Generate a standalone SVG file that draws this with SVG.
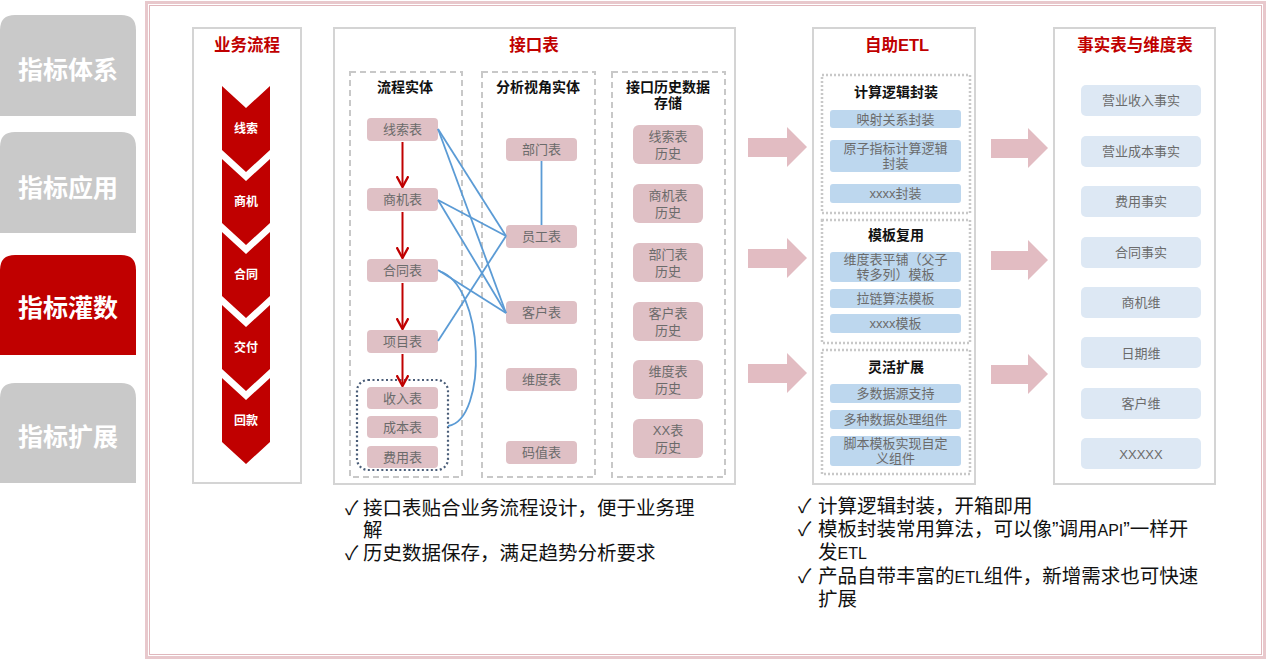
<svg xmlns="http://www.w3.org/2000/svg" width="1268" height="661" viewBox="0 0 1268 661">
<defs>
<style>
text{font-family:"Liberation Sans","Noto Sans CJK SC",sans-serif;}
.tab{font-size:25px;font-weight:bold;fill:#fff;text-anchor:middle;}
.frame{fill:#fff;stroke:#d4d4d4;stroke-width:2;}
.title{font-size:16.5px;font-weight:bold;fill:#c00000;text-anchor:middle;}
.sub{fill:none;stroke:#c8c8c8;stroke-width:2;stroke-dasharray:6 4;}
.subdot{fill:none;stroke:#c8c8c8;stroke-width:2.5;stroke-dasharray:2 2;}
.st{font-size:14px;font-weight:bold;fill:#111;text-anchor:middle;}
.pk{fill:#dfc0c5;}
.bl{fill:#bdd7ee;}
.lb{fill:#dde8f4;}
.bt{font-size:13px;fill:#6b6b6b;text-anchor:middle;}
.cv{fill:#c00000;}
.cvt{font-size:12px;font-weight:bold;fill:#fff;text-anchor:middle;}
.blue{fill:none;stroke:#5b9bd5;stroke-width:1.8;}
.red{fill:none;stroke:#c00000;stroke-width:2;marker-end:url(#ra);}
.pa{fill:#e2bcc2;}
.note{font-size:19.5px;fill:#111;}
.sm{font-size:16px;}
</style>
<marker id="ra" viewBox="0 0 10 10" refX="9" refY="5" markerWidth="12" markerHeight="13" orient="auto" markerUnits="userSpaceOnUse" preserveAspectRatio="none">
<path d="M0,0.5 L9,5 L0,9.5" fill="none" stroke="#c00000" stroke-width="1.8"/>
</marker>
</defs>

<rect x="0" y="0" width="1268" height="661" fill="#fff"/>

<!-- outer frame -->
<rect x="146.5" y="2.5" width="1118" height="655" fill="none" stroke="#e8c8cc" stroke-width="3"/>
<rect x="149.5" y="5.5" width="1112" height="649" fill="none" stroke="#e0b8bd" stroke-width="1"/>

<!-- sidebar tabs -->
<g id="tab1">
<path d="M0,30 Q0,15 15,15 L121,15 Q136,15 136,30 L136,116 L0,116 Z" fill="#c9c9c9"/>
<text class="tab" x="68" y="79">指标体系</text>
</g>
<g id="tab2">
<path d="M0,147 Q0,132 15,132 L121,132 Q136,132 136,147 L136,233 L0,233 Z" fill="#c9c9c9"/>
<text class="tab" x="68" y="197">指标应用</text>
</g>
<g id="tab3">
<path d="M0,270 Q0,255 15,255 L121,255 Q136,255 136,270 L136,355 L0,355 Z" fill="#c00000"/>
<text class="tab" x="68" y="317">指标灌数</text>
</g>
<g id="tab4">
<path d="M0,398 Q0,383 15,383 L121,383 Q136,383 136,398 L136,483 L0,483 Z" fill="#c9c9c9"/>
<text class="tab" x="68" y="446">指标扩展</text>
</g>

<!-- business flow -->
<g id="flow">
<rect class="frame" x="193" y="28" width="108" height="455"/>
<text class="title" x="247" y="51">业务流程</text>
<polygon class="cv" points="222,86 246,108 270,86 270,150 246,172 222,150"/>
<text class="cvt" x="246" y="133">线索</text>
<polygon class="cv" points="222,159 246,181 270,159 270,223 246,245 222,223"/>
<text class="cvt" x="246" y="206">商机</text>
<polygon class="cv" points="222,232 246,254 270,232 270,296 246,318 222,296"/>
<text class="cvt" x="246" y="279">合同</text>
<polygon class="cv" points="222,305 246,327 270,305 270,369 246,391 222,369"/>
<text class="cvt" x="246" y="352">交付</text>
<polygon class="cv" points="222,378 246,400 270,378 270,442 246,464 222,442"/>
<text class="cvt" x="246" y="425">回款</text>
</g>

<!-- interface table -->
<g id="iface">
<rect class="frame" x="334" y="28" width="401" height="456"/>
<text class="title" x="534" y="51">接口表</text>
</g>

<g id="proc">
<rect class="sub" x="350" y="72" width="112" height="405"/>
<text class="st" x="405" y="92">流程实体</text>
</g>
<g id="p1"><rect class="pk" x="367" y="118" width="71" height="23" rx="4"/><text class="bt" x="402.5" y="134">线索表</text></g>
<g id="p2"><rect class="pk" x="367" y="188" width="71" height="23" rx="4"/><text class="bt" x="402.5" y="204">商机表</text></g>
<g id="p3"><rect class="pk" x="367" y="259" width="71" height="23" rx="4"/><text class="bt" x="402.5" y="275">合同表</text></g>
<g id="p4"><rect class="pk" x="367" y="330" width="71" height="23" rx="4"/><text class="bt" x="402.5" y="346">项目表</text></g>
<g id="pgroup"><rect x="357" y="380" width="91" height="90" rx="11" fill="none" stroke="#4a5d78" stroke-width="2.2" stroke-dasharray="2 2.5"/></g>
<g id="p5"><rect class="pk" x="367" y="387" width="71" height="22" rx="4"/><text class="bt" x="402.5" y="403">收入表</text></g>
<g id="p6"><rect class="pk" x="367" y="416" width="71" height="22" rx="4"/><text class="bt" x="402.5" y="432">成本表</text></g>
<g id="p7"><rect class="pk" x="367" y="446" width="71" height="22" rx="4"/><text class="bt" x="402.5" y="462">费用表</text></g>

<g id="anal">
<rect class="sub" x="482" y="72" width="113" height="405"/>
<text class="st" x="538" y="92">分析视角实体</text>
</g>
<g id="a1"><rect class="pk" x="506" y="138" width="71" height="23" rx="4"/><text class="bt" x="541.5" y="154">部门表</text></g>
<g id="a2"><rect class="pk" x="506" y="225" width="71" height="23" rx="4"/><text class="bt" x="541.5" y="241">员工表</text></g>
<g id="a3"><rect class="pk" x="506" y="301" width="71" height="23" rx="4"/><text class="bt" x="541.5" y="317">客户表</text></g>
<g id="a4"><rect class="pk" x="506" y="368" width="71" height="23" rx="4"/><text class="bt" x="541.5" y="384">维度表</text></g>
<g id="a5"><rect class="pk" x="506" y="441" width="71" height="23" rx="4"/><text class="bt" x="541.5" y="457">码值表</text></g>

<g id="hist">
<rect class="sub" x="612" y="72" width="113" height="405"/>
<text class="st" x="668" y="92">接口历史数据</text>
<text class="st" x="668" y="108">存储</text>
</g>
<g id="h1"><rect class="pk" x="633" y="125" width="70" height="39" rx="6"/><text class="bt" x="668" y="141">线索表</text><text class="bt" x="668" y="158">历史</text></g>
<g id="h2"><rect class="pk" x="633" y="184" width="70" height="39" rx="6"/><text class="bt" x="668" y="200">商机表</text><text class="bt" x="668" y="217">历史</text></g>
<g id="h3"><rect class="pk" x="633" y="243" width="70" height="39" rx="6"/><text class="bt" x="668" y="259">部门表</text><text class="bt" x="668" y="276">历史</text></g>
<g id="h4"><rect class="pk" x="633" y="302" width="70" height="39" rx="6"/><text class="bt" x="668" y="318">客户表</text><text class="bt" x="668" y="335">历史</text></g>
<g id="h5"><rect class="pk" x="633" y="360" width="70" height="39" rx="6"/><text class="bt" x="668" y="376">维度表</text><text class="bt" x="668" y="393">历史</text></g>
<g id="h6"><rect class="pk" x="633" y="419" width="70" height="39" rx="6"/><text class="bt" x="668" y="435">XX表</text><text class="bt" x="668" y="452">历史</text></g>

<!-- ETL -->
<g id="etl">
<rect class="frame" x="813" y="28" width="162" height="456"/>
<text class="title" x="897" y="51">自助ETL</text>
</g>
<g id="e1">
<rect class="subdot" x="822" y="75" width="148" height="138"/>
<text class="st" x="896" y="97">计算逻辑封装</text>
<rect class="bl" x="830" y="110" width="131" height="18" rx="3"/><text class="bt" x="895.5" y="124">映射关系封装</text>
<rect class="bl" x="830" y="140" width="131" height="32" rx="3"/><text class="bt" x="895.5" y="153">原子指标计算逻辑</text><text class="bt" x="895.5" y="168">封装</text>
<rect class="bl" x="830" y="184" width="131" height="19" rx="3"/><text class="bt" x="895.5" y="198">xxxx封装</text>
</g>
<g id="e2">
<rect class="subdot" x="822" y="220" width="148" height="123"/>
<text class="st" x="896" y="240">模板复用</text>
<rect class="bl" x="830" y="252" width="131" height="30" rx="3"/><text class="bt" x="895.5" y="264">维度表平铺（父子</text><text class="bt" x="895.5" y="279">转多列）模板</text>
<rect class="bl" x="830" y="289" width="131" height="19" rx="3"/><text class="bt" x="895.5" y="303">拉链算法模板</text>
<rect class="bl" x="830" y="314" width="131" height="19" rx="3"/><text class="bt" x="895.5" y="328">xxxx模板</text>
</g>
<g id="e3">
<rect class="subdot" x="822" y="350" width="148" height="124"/>
<text class="st" x="896" y="372">灵活扩展</text>
<rect class="bl" x="830" y="384" width="131" height="19" rx="3"/><text class="bt" x="895.5" y="398">多数据源支持</text>
<rect class="bl" x="830" y="410" width="131" height="19" rx="3"/><text class="bt" x="895.5" y="424">多种数据处理组件</text>
<rect class="bl" x="830" y="436" width="131" height="30" rx="3"/><text class="bt" x="895.5" y="448">脚本模板实现自定</text><text class="bt" x="895.5" y="463">义组件</text>
</g>

<!-- facts -->
<g id="fact">
<rect class="frame" x="1054" y="28" width="161" height="456"/>
<text class="title" x="1135" y="51">事实表与维度表</text>
</g>
<g id="f1"><rect class="lb" x="1081" y="85" width="120" height="31" rx="5"/><text class="bt" x="1141" y="105">营业收入事实</text></g>
<g id="f2"><rect class="lb" x="1081" y="136" width="120" height="31" rx="5"/><text class="bt" x="1141" y="156">营业成本事实</text></g>
<g id="f3"><rect class="lb" x="1081" y="186" width="120" height="31" rx="5"/><text class="bt" x="1141" y="206">费用事实</text></g>
<g id="f4"><rect class="lb" x="1081" y="237" width="120" height="31" rx="5"/><text class="bt" x="1141" y="257">合同事实</text></g>
<g id="f5"><rect class="lb" x="1081" y="287" width="120" height="31" rx="5"/><text class="bt" x="1141" y="307">商机维</text></g>
<g id="f6"><rect class="lb" x="1081" y="337" width="120" height="31" rx="5"/><text class="bt" x="1141" y="358">日期维</text></g>
<g id="f7"><rect class="lb" x="1081" y="388" width="120" height="31" rx="5"/><text class="bt" x="1141" y="408">客户维</text></g>
<g id="f8"><rect class="lb" x="1081" y="438" width="120" height="31" rx="5"/><text class="bt" x="1141" y="459">XXXXX</text></g>

<!-- connectors -->
<g id="connectors">
<line class="red" x1="402.5" y1="142" x2="402.5" y2="187"/>
<line class="red" x1="402.5" y1="212" x2="402.5" y2="258"/>
<line class="red" x1="402.5" y1="283" x2="402.5" y2="329"/>
<line class="red" x1="402.5" y1="354" x2="402.5" y2="386"/>
<line class="blue" x1="438" y1="129" x2="506" y2="236"/>
<line class="blue" x1="438" y1="129" x2="506" y2="313"/>
<line class="blue" x1="438" y1="200" x2="506" y2="236"/>
<line class="blue" x1="438" y1="200" x2="506" y2="313"/>
<line class="blue" x1="438" y1="270" x2="506" y2="313"/>
<line class="blue" x1="438" y1="341" x2="506" y2="236"/>
<line class="blue" x1="541.5" y1="161" x2="541.5" y2="225"/>
<path class="blue" d="M439,271 C485,285 488,420 448,426"/>
<polygon class="pa" points="748,138 787,138 787,127 807,147 787,167 787,157 748,157"/>
<polygon class="pa" points="748,249 787,249 787,238 807,258 787,278 787,268 748,268"/>
<polygon class="pa" points="748,364 787,364 787,353 807,373 787,393 787,383 748,383"/>
<polygon class="pa" points="991,139 1028,139 1028,128 1048,148 1028,168 1028,158 991,158"/>
<polygon class="pa" points="991,251 1028,251 1028,240 1048,260 1028,280 1028,270 991,270"/>
<polygon class="pa" points="991,365 1028,365 1028,354 1048,374 1028,394 1028,384 991,384"/>
</g>

<!-- notes -->
<g id="notes-left">
<text class="note" x="345" y="515">✓</text><text class="note" x="363" y="515">接口表贴合业务流程设计，便于业务理</text>
<text class="note" x="363" y="537">解</text>
<text class="note" x="345" y="560">✓</text><text class="note" x="363" y="560">历史数据保存，满足趋势分析要求</text>
</g>
<g id="notes-right">
<text class="note" x="798" y="513">✓</text><text class="note" x="818" y="513">计算逻辑封装，开箱即用</text>
<text class="note" x="798" y="536">✓</text><text class="note" x="818" y="536">模板封装常用算法，可以像”调用<tspan class="sm">API</tspan>”一样开</text>
<text class="note" x="818" y="559">发<tspan class="sm">ETL</tspan></text>
<text class="note" x="798" y="583">✓</text><text class="note" x="818" y="583">产品自带丰富的<tspan class="sm">ETL</tspan>组件，新增需求也可快速</text>
<text class="note" x="818" y="606">扩展</text>
</g>
</svg>
